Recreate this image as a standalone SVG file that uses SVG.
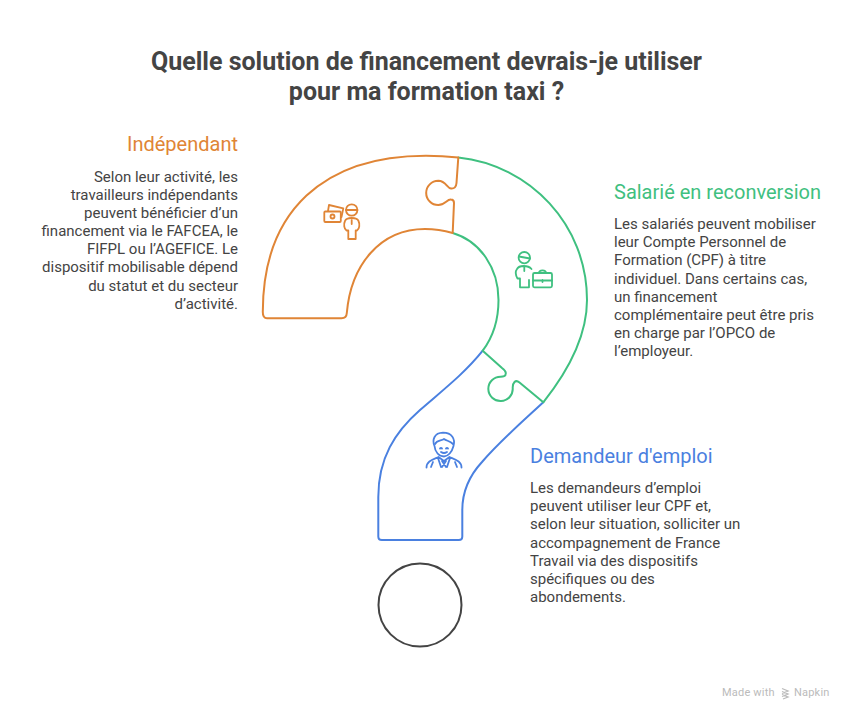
<svg xmlns="http://www.w3.org/2000/svg" width="856" height="720" viewBox="0 0 856 720">
<style>
text{font-family:Roboto,"Liberation Sans",sans-serif}
.title{font-size:25px;font-weight:700;fill:#444;text-anchor:middle}
.head{font-size:20px;font-weight:400}
.body{font-size:15px;fill:#444}
.end{text-anchor:end}
.line{fill:none;stroke-width:2;stroke-linejoin:round;stroke-linecap:round}
.icon{fill:none;stroke-width:1.800;stroke-linejoin:round;stroke-linecap:round}
.o{stroke:#e08536}.g{stroke:#3fc080}.b{stroke:#4a80e0}
</style>
<rect width="856" height="720" fill="#fff"/>
<text class="title" x="426.500" y="70">Quelle solution de financement devrais-je utiliser</text>
<text class="title" x="426.500" y="100">pour ma formation taxi ?</text>
<g id="connectors">
<path class="line b" d="M482.700 350.700C465 373 443 390 420 410C395 432 378.300 458 378.300 497V536.500Q378.300 540 381.800 540H458.800Q462.300 540 462.300 536.500V510C462.300 490 470 475 482 462C500 441 522 422 543.300 402.300"/>
<path class="line g" d="M458.300 157.500C530 165 587 225 587 300C587 340 565 375 543.300 402.300L519.500 382.500Q516.500 380 514.500 382C512.500 384 512.700 386 512.700 388A12.200 12.200 0 1 1 500.700 376.700C503 376.700 506 376.500 505.800 373C505.700 371 504 369.500 502 368L482.700 350.700C493 337 498.500 320 498.500 300C498.500 268 480 241 452.700 233"/>
<path class="line o" d="M458.300 157.500C445 156 435 155.700 426 155.700C325 155.700 262.800 210 262.800 312Q262.800 318.300 267 318.300H341.500Q346.500 318.300 346.800 313C351 265 380 229 425 229C435 229 444 230.500 452.700 233L454 203Q454 199.500 451 199.500C447 199 445 205 438.300 205A12.100 12.100 0 1 1 438.300 180.800C446 181 447 188 451 188.500Q456 189 456.500 183Z"/>
</g>
<g id="indep">
<text class="head" x="238" y="150.500" fill="#e08536" text-anchor="end">Indépendant</text>
<text class="body end" x="238" y="181.500">Selon leur activité, les</text>
<text class="body end" x="238" y="199.700">travailleurs indépendants</text>
<text class="body end" x="238" y="217.900">peuvent bénéficier d’un</text>
<text class="body end" x="238" y="236">financement via le FAFCEA, le</text>
<text class="body end" x="238" y="254.200">FIFPL ou l’AGEFICE. Le</text>
<text class="body end" x="238" y="272.300">dispositif mobilisable dépend</text>
<text class="body end" x="238" y="290.500">du statut et du secteur</text>
<text class="body end" x="238" y="308.600">d’activité.</text>
<g class="icon o">
<rect x="324.300" y="211.500" width="16.500" height="10.500" rx="1"/>
<circle cx="332.500" cy="216.500" r="2"/>
<path d="M328 211L329 205L343.300 208.300L341.500 217"/>
<circle cx="351.700" cy="210" r="5.700"/>
<path d="M346 210H357.400M351.700 220V224M348.300 230.500H346.500C344 229 343.500 224 345 221C346.500 217 357 217 358.500 221C360 224 359.500 229 357 230.500H355.700V239H348.300Z"/>
</g>
</g>
<g id="salarie">
<text class="head" x="614" y="199" fill="#3fc080">Salarié en reconversion</text>
<text class="body" x="614" y="229">Les salariés peuvent mobiliser</text>
<text class="body" x="614" y="247.200">leur Compte Personnel de</text>
<text class="body" x="614" y="265.300">Formation (CPF) à titre</text>
<text class="body" x="614" y="283.500">individuel. Dans certains cas,</text>
<text class="body" x="614" y="301.600">un financement</text>
<text class="body" x="614" y="319.800">complémentaire peut être pris</text>
<text class="body" x="614" y="338">en charge par l’OPCO de</text>
<text class="body" x="614" y="356">l’employeur.</text>
<g class="icon g">
<circle cx="524.300" cy="257.700" r="5.700"/>
<path d="M519 256.500L530 258.500M524.300 267V271M520 278.500H517.500C515.500 275 515.500 271 517 269C519 265 528 265 531.500 269M520 278.500V287.300H529V280"/>
<rect x="533" y="273" width="19" height="14.300" rx="1.500"/>
<path d="M533 280.500H552M539 273C539 269.500 546 269.500 546 273M542.500 280V282"/>
</g>
</g>
<g id="demandeur">
<text class="head" x="530" y="462.500" fill="#4a80e0">Demandeur d'emploi</text>
<text class="body" x="530" y="493">Les demandeurs d’emploi</text>
<text class="body" x="530" y="511.200">peuvent utiliser leur CPF et,</text>
<text class="body" x="530" y="529.300">selon leur situation, solliciter un</text>
<text class="body" x="530" y="547.500">accompagnement de France</text>
<text class="body" x="530" y="565.700">Travail via des dispositifs</text>
<text class="body" x="530" y="583.800">spécifiques ou des</text>
<text class="body" x="530" y="602">abondements.</text>
<g class="icon b">
<path d="M434.500 446C432 440 434 433 443 432.700C452 432.700 455.500 439 453.500 446C452 452 448 456.500 444 456.500C439 456.500 435 452 434.500 446Z"/>
<path d="M435 444C437 440 441 441 444 439C447 441 450 441 453 444M440 448.500Q441 447.500 442 448.500M446 448.500Q447 447.500 448 448.500M441 452Q444 454 447 452"/>
<path d="M426.500 467.500C426.500 461 433 459.500 438.500 457L444 461L449.500 457C455 459.500 461.500 461 461.500 467.500M431 467L433 462M457 467L455 462M438 458L441 467M450 458L447 467M442 461L446 467M446 461L442 467"/>
</g>
</g>
<g id="point"><circle cx="420" cy="605" r="41.500" fill="none" stroke="#444" stroke-width="2"/></g>
<g id="credit" fill="#bbb">
<text x="722" y="696" font-size="11" letter-spacing=".2">Made with</text>
<path d="M782 688.500L788 691L782 693.500M782 691.500L788 694L782 696.500M782 694.500L788 697L783 699" fill="none" stroke="#bbb" stroke-width="1.300"/>
<text x="794" y="696" font-size="11" letter-spacing=".2">Napkin</text>
</g>
</svg>
